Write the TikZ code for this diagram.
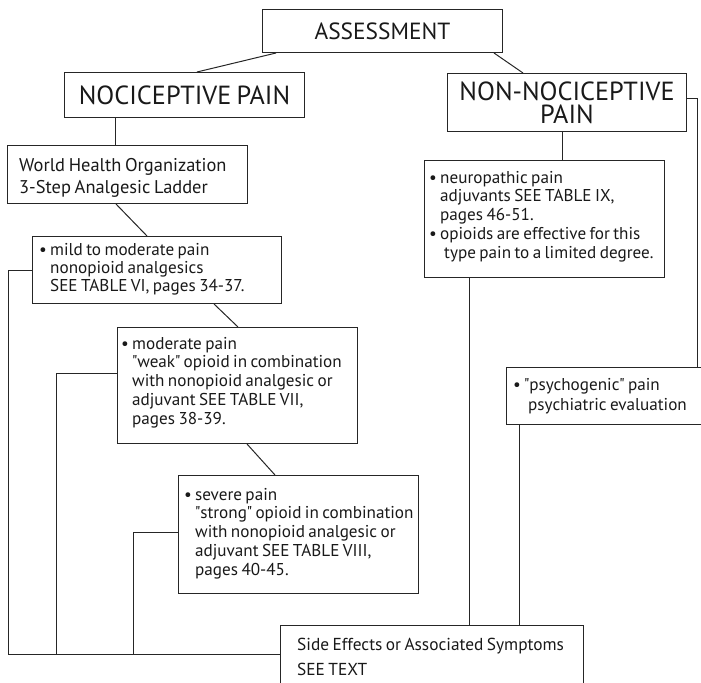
\documentclass[tikz,border=0pt]{standalone}
\usepackage{fontspec}
\setmainfont{PT Sans}[WordSpace=0.75]
\usetikzlibrary{calc}
\newcommand\stk[2]{\vtop{\baselineskip=#1\lineskiplimit=-\maxdimen\lineskip=0pt\relax #2}}
\newcommand\bul{\makebox[11bp][l]{•}}
\newcommand\ind{\hspace*{11bp}}
\newcommand\qq{\kern-0.3bp\textquotedbl\kern-0.3bp{}}
\begin{document}
\begin{tikzpicture}[x=1bp,y=-1bp,
  box/.style={draw=black!85, line width=1bp, inner sep=0pt, anchor=north west},
  conn/.style={draw=black!85, line width=1bp},
  txt/.style={inner sep=0pt, anchor=base west, text=black!90, font=\fontsize{17.2}{19}\selectfont},
  ttl/.style={inner sep=0pt, text=black!90, align=center, font=\fontsize{26.3}{23}\selectfont}]
\useasboundingbox (0,0) rectangle (701,683);
% boxes
\node[box, minimum width=240bp, minimum height=43bp] (assess) at (262,9) {};
\node[box, minimum width=240bp, minimum height=45bp] (noci) at (64,72) {};
\node[box, minimum width=239bp, minimum height=58bp] (nonnoci) at (447,73) {};
\node[box, minimum width=240bp, minimum height=58bp] (who) at (7,145) {};
\node[box, minimum width=249bp, minimum height=67bp] (mild) at (32,236) {};
\node[box, minimum width=240bp, minimum height=116bp] (moder) at (117,327) {};
\node[box, minimum width=240bp, minimum height=118bp] (severe) at (178,475) {};
\node[box, minimum width=240bp, minimum height=117bp] (neuro) at (424,160) {};
\node[box, minimum width=210bp, minimum height=57bp] (psych) at (506,367) {};
\node[box, minimum width=303bp, minimum height=80bp] (side) at (280,625) {};
% texts
\node[ttl, font=\fontsize{23.5}{22}\selectfont] (assesst) at (assess.center) {ASSESSMENT};
\node[ttl] (nocit) at (noci.center) {NOCICEPTIVE PAIN};
\node[ttl] (nont) at (nonnoci.center) {NON-NOCICEPTIVE\\PAIN};
\node[txt, font=\fontsize{18.5}{20}\selectfont] (whot) at ($(who.north west)+(12,26.5)$) {\stk{21.5bp}{\hbox{World Health Organization}\hbox{3-Step Analgesic Ladder}}};
\node[txt] (mildt) at ($(mild.north west)+(7,19)$) {\stk{18bp}{\hbox{\bul mild to moderate pain}\hbox{\ind nonopioid analgesics}\hbox{\ind SEE TABLE VI, pages 34-37.}}};
\node[txt] (modt) at ($(moder.north west)+(4,22)$) {\stk{18.8bp}{\hbox{\bul moderate pain}\hbox{\ind \qq weak\qq\ opioid in combination}\hbox{\ind with nonopioid analgesic or}\hbox{\ind adjuvant SEE TABLE VII,}\hbox{\ind pages 38-39.}}};
\node[txt] (sevt) at ($(severe.north west)+(6,25)$) {\stk{18.8bp}{\hbox{\bul severe pain}\hbox{\ind \qq strong\qq\ opioid in combination}\hbox{\ind with nonopioid analgesic or}\hbox{\ind adjuvant SEE TABLE VIII,}\hbox{\ind pages 40-45.}}};
\node[txt] (neut) at ($(neuro.north west)+(5,23)$) {\stk{18.8bp}{\hbox{\bul neuropathic pain}\hbox{\ind adjuvants SEE TABLE IX,}\hbox{\ind pages 46-51.}\hbox{\bul opioids are effective for this}\hbox{\ind\hspace*{4bp}type pain to a limited degree.}}};
\node[txt] (psyt) at ($(psych.north west)+(7,23)$) {\stk{20bp}{\hbox{\bul \qq psychogenic\qq\ pain}\hbox{\ind\hspace*{4bp}psychiatric evaluation}}};
\node[txt, font=\fontsize{17.4}{19}\selectfont] (sidet) at ($(side.north west)+(17,25)$) {\stk{25bp}{\hbox{Side Effects or Associated Symptoms}\hbox{SEE TEXT}}};
% connectors
\draw[conn] ($(assess.south west)+(14,0)$) -- ($(noci.north west)+(133,0)$);
\draw[conn] ($(assess.south west)+(232,0)$) -- ($(nonnoci.north west)+(76,0)$);
\draw[conn] ($(noci.south west)+(51,0)$) -- ($(who.north west)+(108,0)$);
\draw[conn] ($(who.south west)+(109,0)$) -- ($(mild.north west)+(115,0)$);
\draw[conn] ($(mild.south west)+(182,0)$) -- ($(moder.north west)+(121,0)$);
\draw[conn] ($(moder.south west)+(130,0)$) -- ($(severe.north west)+(97,0)$);
\draw[conn] ($(nonnoci.south west)+(115,0)$) -- ($(neuro.north west)+(138,0)$);
\draw[conn] ($(nonnoci.north east)+(0,26)$) -| ($(psych.north west)+(191,0)$);
\draw[conn] ($(neuro.south west)+(45,0)$) -- ($(side.north west)+(189,0)$);
\draw[conn] ($(psych.south west)+(13,0)$) -- ($(side.north west)+(239,0)$);
\draw[conn] ($(mild.north west)+(0,34)$) -- ++(-24,0) |- ($(side.north west)+(0,29)$);
\draw[conn] ($(moder.north west)+(0,46)$) -- ++(-61,0) -- ++(0,281);
\draw[conn] ($(severe.north west)+(0,57)$) -- ++(-45,0) -- ++(0,122);
\end{tikzpicture}
\end{document}
